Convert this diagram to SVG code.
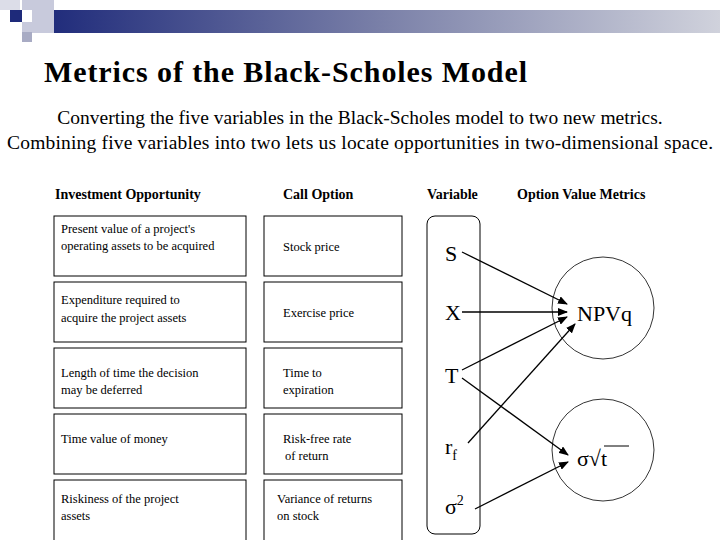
<svg xmlns="http://www.w3.org/2000/svg" width="720" height="540" viewBox="0 0 720 540">
<defs>
<linearGradient id="bar" x1="0" x2="1" y1="0" y2="0"><stop offset="0" stop-color="#1e2a7a"/><stop offset="0.5" stop-color="#7a80a8"/><stop offset="1" stop-color="#d0d2dc"/></linearGradient>
<marker id="ah" markerWidth="10" markerHeight="8" refX="9" refY="4" orient="auto" markerUnits="userSpaceOnUse"><path d="M0,0 L10,4 L0,8 Z" fill="#000"/></marker>
</defs>
<style>
text{font-family:"Liberation Serif","Times New Roman","DejaVu Serif",serif;fill:#000}
.bx{fill:#fff;stroke:#000;stroke-width:1}
.s{font-size:12.5px}
.h{font-size:14px;font-weight:bold}
.v{font-size:22px}
.c{stroke:#000;stroke-width:1.3;fill:none;marker-end:url(#ah)}
</style>
<rect width="720" height="540" fill="#fff"/>
<g id="header">
<rect x="42" y="10" width="678" height="23" fill="url(#bar)"/>
<rect x="0" y="0" width="20" height="10" fill="#dcdde8"/>
<rect x="22" y="0" width="32" height="10" fill="#c8cadc"/>
<rect x="10" y="10" width="12" height="12" fill="#1e2a7a"/>
<rect x="22" y="22" width="10" height="10" fill="#c8cadc"/>
<rect x="22" y="32" width="10" height="10" fill="#a8abc4"/>
<rect x="32" y="10" width="22" height="23" fill="#c8cadc"/>
</g>
<text x="44" y="82" font-size="30" font-weight="bold" textLength="483">Metrics of the Black-Scholes Model</text>
<text x="360" y="124" font-size="19.5" text-anchor="middle">Converting the five variables in the Black-Scholes model to two new metrics.</text>
<text x="360" y="149" font-size="19.5" text-anchor="middle" textLength="706">Combining five variables into two lets us locate opportunities in two-dimensional space.</text>
<g id="headings">
<text class="h" x="55" y="199">Investment Opportunity</text>
<text class="h" x="283" y="199">Call Option</text>
<text class="h" x="427" y="199">Variable</text>
<text class="h" x="517" y="199">Option Value Metrics</text>
</g>
<g id="inv1"><rect class="bx" x="54" y="216" width="192" height="60"/><text class="s" x="61" y="233">Present value of a project's</text><text class="s" x="61" y="250">operating assets to be acquired</text></g>
<g id="inv2"><rect class="bx" x="54" y="282" width="192" height="60"/><text class="s" x="61" y="304">Expenditure required to</text><text class="s" x="61" y="322">acquire the project assets</text></g>
<g id="inv3"><rect class="bx" x="54" y="348" width="192" height="60"/><text class="s" x="61" y="377">Length of time the decision</text><text class="s" x="61" y="394">may be deferred</text></g>
<g id="inv4"><rect class="bx" x="54" y="414" width="192" height="60"/><text class="s" x="61" y="443">Time value of money</text></g>
<g id="inv5"><rect class="bx" x="54" y="480" width="192" height="70"/><text class="s" x="61" y="503">Riskiness of the project</text><text class="s" x="61" y="520">assets</text></g>
<g id="call1"><rect class="bx" x="264" y="216" width="138" height="60"/><text class="s" x="283" y="251">Stock price</text></g>
<g id="call2"><rect class="bx" x="264" y="282" width="138" height="60"/><text class="s" x="283" y="317">Exercise price</text></g>
<g id="call3"><rect class="bx" x="264" y="348" width="138" height="60"/><text class="s" x="283" y="377">Time to</text><text class="s" x="283" y="394">expiration</text></g>
<g id="call4"><rect class="bx" x="264" y="414" width="138" height="60"/><text class="s" x="283" y="443">Risk-free rate</text><text class="s" x="285" y="460">of return</text></g>
<g id="call5"><rect class="bx" x="264" y="480" width="138" height="70"/><text class="s" x="277" y="503">Variance of returns</text><text class="s" x="277" y="520">on stock</text></g>
<g id="vars">
<rect x="427" y="216" width="53" height="318" rx="8" fill="none" stroke="#000" stroke-width="1"/>
<text class="v" x="445" y="261">S</text>
<text class="v" x="445" y="320">X</text>
<text class="v" x="445" y="383">T</text>
<text class="v" x="445" y="454">r<tspan font-size="14" dy="6">f</tspan></text>
<text class="v" x="445" y="514">σ<tspan font-size="14" dy="-9">2</tspan></text>
</g>
<g id="npvq"><circle cx="603" cy="308" r="51" fill="none" stroke="#000" stroke-width="0.8"/><text class="v" x="577" y="321">NPVq</text></g>
<g id="sigma"><circle cx="603" cy="450" r="51" fill="none" stroke="#000" stroke-width="0.8"/><text class="v" x="577" y="466">σ√t</text><line x1="604" y1="446" x2="629" y2="446" stroke="#000" stroke-width="1"/></g>
<g id="connectors">
<line class="c" x1="462" y1="252" x2="567" y2="304"/>
<line class="c" x1="462" y1="312" x2="567" y2="312"/>
<line class="c" x1="462" y1="370" x2="567" y2="317"/>
<line class="c" x1="468" y1="443" x2="575" y2="324"/>
<line class="c" x1="462" y1="378" x2="568" y2="455"/>
<line class="c" x1="475" y1="509" x2="568" y2="462"/>
</g>
</svg>
